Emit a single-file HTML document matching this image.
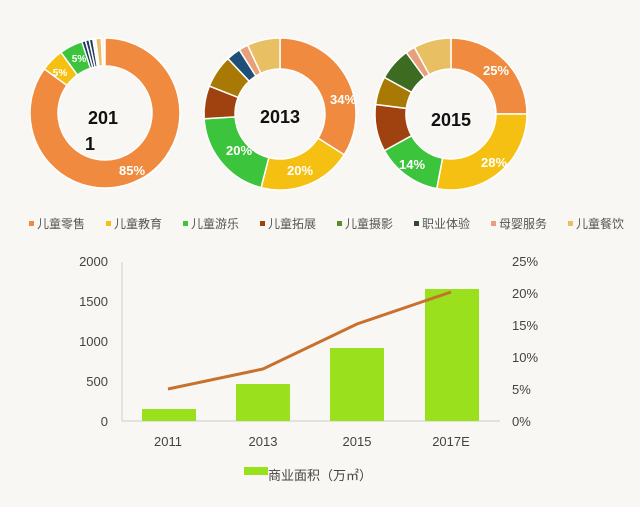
<!DOCTYPE html>
<html><head><meta charset="utf-8">
<style>
html,body{margin:0;padding:0;background:#f8f7f3;}
svg{display:block;font-family:"Liberation Sans","Noto Sans CJK SC",sans-serif;}
</style></head>
<body>
<svg id="s" width="640" height="507" viewBox="0 0 640 507" xmlns="http://www.w3.org/2000/svg">
<rect width="640" height="507" fill="#f8f7f3"/>
<g id="donuts"></g>
<g font-weight="bold" font-size="18" text-anchor="middle" fill="#111">
<text x="103" y="124">201</text><text x="90" y="150">1</text>
<text x="280" y="123">2013</text>
<text x="451" y="126">2015</text>
</g>
<g font-weight="bold" font-size="13" fill="#fff" text-anchor="middle">
<text x="132" y="175">85%</text>
<text x="60" y="76" font-size="10">5%</text>
<text x="79" y="62" font-size="10">5%</text>
<text x="343" y="104">34%</text>
<text x="300" y="175">20%</text>
<text x="239" y="155">20%</text>
<text x="496" y="75">25%</text>
<text x="494" y="167">28%</text>
<text x="412" y="169">14%</text>
</g>
<g font-size="12" fill="#555">
<rect x="29" y="221" width="5" height="5" fill="#ef8a3f"/><text x="37" y="228">儿童零售</text>
<rect x="106" y="221" width="5" height="5" fill="#f5c012"/><text x="114" y="228">儿童教育</text>
<rect x="183" y="221" width="5" height="5" fill="#3cc43c"/><text x="191" y="228">儿童游乐</text>
<rect x="260" y="221" width="5" height="5" fill="#a0420f"/><text x="268" y="228">儿童拓展</text>
<rect x="337" y="221" width="5" height="5" fill="#5f8a2a"/><text x="345" y="228">儿童摄影</text>
<rect x="414" y="221" width="5" height="5" fill="#2f4a2a"/><text x="422" y="228">职业体验</text>
<rect x="491" y="221" width="5" height="5" fill="#e7a07a"/><text x="499" y="228">母婴服务</text>
<rect x="568" y="221" width="5" height="5" fill="#e8c063"/><text x="576" y="228">儿童餐饮</text>
</g>
<line x1="122" y1="262" x2="122" y2="421" stroke="#ccc"/>
<line x1="122" y1="421" x2="500" y2="421" stroke="#ccc"/>
<g fill="#9be01c">
<rect x="142" y="409" width="54" height="12"/>
<rect x="236" y="384" width="54" height="37"/>
<rect x="330" y="348" width="54" height="73"/>
<rect x="425" y="289" width="54" height="132"/>
</g>
<polyline points="168,389 263,369 357,324 451,292" fill="none" stroke="#c8702e" stroke-width="3"/>
<g font-size="13" fill="#444" text-anchor="end">
<text x="108" y="266">2000</text><text x="108" y="306">1500</text><text x="108" y="346">1000</text><text x="108" y="386">500</text><text x="108" y="426">0</text>
</g>
<g font-size="13" fill="#444">
<text x="512" y="266">25%</text><text x="512" y="298">20%</text><text x="512" y="330">15%</text><text x="512" y="362">10%</text><text x="512" y="394">5%</text><text x="512" y="426">0%</text>
</g>
<g font-size="13" fill="#444" text-anchor="middle">
<text x="168" y="446">2011</text><text x="263" y="446">2013</text><text x="357" y="446">2015</text><text x="451" y="446">2017E</text>
</g>
<rect x="244" y="467" width="24" height="8" fill="#9be01c"/>
<text x="268" y="480" font-size="13" fill="#444">商业面积（万㎡）</text>
</svg>
<script>
var C={r:"#ef8a3f",e:"#f5c012",g:"#3cc43c",x:"#a0420f",p:"#a87a05",m:"#e7a07a",d:"#e8c063"};
var D=[
 [105,113,75,47,[[85,C.r],[5,C.e],[5,C.g],[0.8,"#1f3a5a"],[0.8,"#1f3a5a"],[0.8,"#1f3a5a"],[0.6,"#f8f7f3"],[1.2,C.d]]],
 [280,114,76,45,[[34,C.r],[20,C.e],[20,C.g],[7,C.x],[7,C.p],[3,"#1f4e79"],[2,C.m],[7,C.d]]],
 [451,114,76,45,[[25,C.r],[28,C.e],[14,C.g],[10,C.x],[6,C.p],[7,"#3d6b22"],[2,C.m],[8,C.d]]]
];
var g=document.getElementById("donuts"),ns="http://www.w3.org/2000/svg";
D.forEach(function(d){
 var cx=d[0],cy=d[1],R=d[2],r=d[3],a=0;
 d[4].forEach(function(s){
  var a0=a/100*2*Math.PI,a1=(a+s[0])/100*2*Math.PI;a+=s[0];
  function P(rad,t){return (cx+rad*Math.sin(t)).toFixed(2)+","+(cy-rad*Math.cos(t)).toFixed(2);}
  var L=(a1-a0)>Math.PI?1:0;
  var p=document.createElementNS(ns,"path");
  p.setAttribute("d","M"+P(R,a0)+"A"+R+","+R+" 0 "+L+" 1 "+P(R,a1)+"L"+P(r,a1)+"A"+r+","+r+" 0 "+L+" 0 "+P(r,a0)+"Z");
  p.setAttribute("fill",s[1]);p.setAttribute("stroke","#fff");p.setAttribute("stroke-width","1.5");
  g.appendChild(p);
 });
});
</script>
</body></html>
